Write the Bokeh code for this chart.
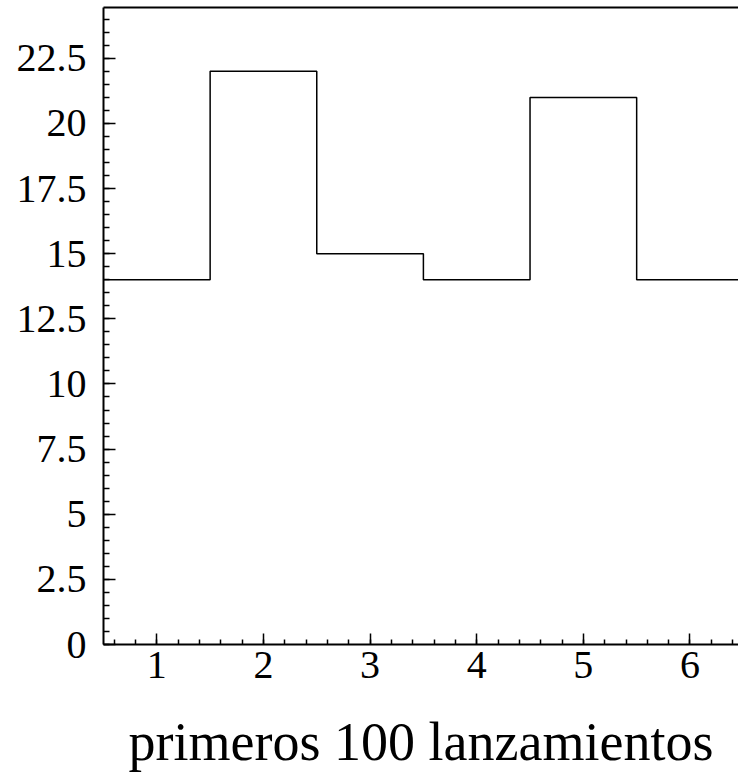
from bokeh.plotting import figure
from bokeh.models import FixedTicker, CustomJSTickFormatter, LinearAxis, Range1d
from bokeh.embed import file_html
from bokeh.resources import INLINE

# Data
bin_centers = [1, 2, 3, 4, 5, 6]
counts = [14, 22, 15, 14, 21, 14]
x_label = "primeros 100 lanzamientos"
x_ticks = [1, 2, 3, 4, 5, 6]
y_ticks = [0, 2.5, 5, 7.5, 10, 12.5, 15, 17.5, 20, 22.5]

bin_width = 1.0
edges = [c - bin_width / 2 for c in bin_centers] + [bin_centers[-1] + bin_width / 2]
step_y = counts + [counts[-1]]

FONT = "Liberation Serif"

p = figure(width=738, height=775, output_backend="svg", toolbar_location=None,
           x_range=Range1d(0.5, 6.455), y_range=Range1d(0, 24.45),
           min_border_left=103, min_border_right=0, min_border_top=7, min_border_bottom=131)
p.background_fill_color = "white"
p.border_fill_color = "white"
p.outline_line_color = None
p.xgrid.visible = False
p.ygrid.visible = False

p.step(edges, step_y, mode="after", line_color="black", line_width=1.5)

fmt = CustomJSTickFormatter(code="return tick.toString();")

xa = p.xaxis[0]
xa.ticker = FixedTicker(ticks=x_ticks,
                        minor_ticks=[round(0.6 + 0.2 * i, 2) for i in range(30)])
xa.formatter = fmt
ya = p.yaxis[0]
ya.ticker = FixedTicker(ticks=y_ticks,
                        minor_ticks=[0.5 * i for i in range(49)])
ya.formatter = fmt

for ax in (xa, ya):
    ax.axis_line_color = "black"
    ax.axis_line_width = 2
    ax.major_tick_line_color = "black"
    ax.minor_tick_line_color = "black"
    ax.major_tick_line_width = 1.5
    ax.minor_tick_line_width = 1.5
    ax.major_tick_out = 0
    ax.minor_tick_out = 0
    ax.major_label_text_font = FONT
    ax.major_label_text_font_size = "40px"
    ax.major_label_text_color = "black"

xa.major_tick_in = 11
xa.minor_tick_in = 5
ya.major_tick_in = 12
ya.minor_tick_in = 6
xa.major_label_standoff = 7
ya.major_label_standoff = 17

xa.axis_label = x_label
xa.axis_label_text_font = FONT
xa.axis_label_text_font_size = "54px"
xa.axis_label_text_font_style = "normal"
xa.axis_label_text_color = "black"
xa.axis_label_standoff = 31

top = LinearAxis(ticker=FixedTicker(ticks=[]), axis_line_width=2, axis_line_color="black",
                 major_tick_in=0, major_tick_out=0, minor_tick_in=0, minor_tick_out=0,
                 major_label_text_font_size="0px")
p.add_layout(top, "above")

open("out.html", "w").write(file_html(p, INLINE))
